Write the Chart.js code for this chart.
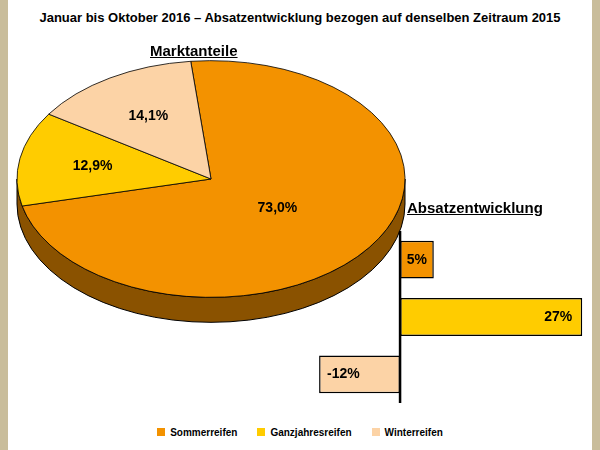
<!DOCTYPE html>
<html><head><meta charset="utf-8">
<script src="https://cdn.jsdelivr.net/npm/chart.js@4"></script>
<style>
body{margin:0;width:600px;height:450px;position:relative;background:#fff;font-family:Arial,"Liberation Sans",sans-serif;overflow:hidden}
.bd{position:absolute;top:0;bottom:0;width:8px;background:#c9bd9b}
#t{position:absolute;top:10px;left:0;width:600px;text-align:center;font-weight:bold;font-size:13px}
#mt{position:absolute;top:42px;left:150px;font-weight:bold;font-size:15px;text-decoration:underline;z-index:3}
#at{position:absolute;top:199px;left:407px;font-weight:bold;font-size:15px;text-decoration:underline;z-index:3}
#lg{position:absolute;top:427px;left:0;width:600px;text-align:center;font-weight:bold;font-size:10px}
#lg span{margin:0 10px}#lg i{display:inline-block;width:8px;height:8px;margin-right:5px}
</style></head><body>
<div class="bd" style="left:0"></div><div class="bd" style="right:0"></div>
<div id="t">Januar bis Oktober 2016 – Absatzentwicklung bezogen auf denselben Zeitraum 2015</div>
<div id="mt">Marktanteile</div>
<div id="at">Absatzentwicklung</div>
<div style="position:absolute;left:6px;top:34px;width:410px;height:290px"><canvas id="p"></canvas></div>
<div style="position:absolute;left:311px;top:231px;width:280px;height:172px;z-index:2"><canvas id="b"></canvas></div>
<div id="lg"></div>
<script>
const categories=["Sommerreifen","Ganzjahresreifen","Winterreifen"];
const shares=[73.0,12.9,14.1];
const growth=[5,27,-12];
const colors=["#f39200","#ffcc00","#fcd3a6"];
const sideColors=["#8a5200","#8a6e00","#8a7358"];
document.getElementById('lg').innerHTML=categories.map((c,i)=>`<span><i style="background:${colors[i]}"></i>${c}</span>`).join('');
const fmt=v=>v.toFixed(1).replace('.',',')+'%';
const SY=0.61, DEPTH=25;
const squash={id:'squash',
 beforeDatasetsDraw(ch){const a=ch.getDatasetMeta(0).data[0];const ctx=ch.ctx;const r=a.outerRadius;
  ctx.save();
  ctx.fillStyle=sideColors[0];ctx.strokeStyle='#000';ctx.lineWidth=1;
  ctx.beginPath();ctx.ellipse(a.x,a.y+DEPTH,r,r*SY,0,0,Math.PI);ctx.lineTo(a.x-r,a.y);ctx.ellipse(a.x,a.y,r,r*SY,0,Math.PI,0,true);ctx.closePath();ctx.fill();ctx.stroke();
  ctx.translate(a.x,a.y);ctx.scale(1,SY);ctx.translate(-a.x,-a.y);
 },
 afterDatasetsDraw(ch){ch.ctx.restore();
  const ctx=ch.ctx;ctx.save();ctx.font='bold 14px Arial';ctx.fillStyle='#000';ctx.textAlign='center';ctx.textBaseline='middle';
  ch.getDatasetMeta(0).data.forEach((e,i)=>{const m=(e.startAngle+e.endAngle)/2;const f=i==0?0.42:0.62;
   ctx.fillText(fmt(shares[i]),e.x+Math.cos(m)*e.outerRadius*f,e.y+Math.sin(m)*e.outerRadius*f*SY);});
  ctx.restore();}
};
new Chart(document.getElementById('p'),{type:'pie',
 data:{labels:categories,datasets:[{data:shares,backgroundColor:colors,borderColor:'#000',borderWidth:1}]},
 options:{responsive:true,maintainAspectRatio:false,animation:false,rotation:-6,radius:194,
  layout:{padding:{top:-55,bottom:-25}},
  plugins:{legend:{display:false},tooltip:{enabled:false}}},
 plugins:[squash]
});
const axisLine={id:'axl',afterDatasetsDraw(ch){const x=ch.scales.x.getPixelForValue(0);const c=ch.ctx;c.save();c.strokeStyle='#000';c.lineWidth=2.5;c.beginPath();c.moveTo(x,0);c.lineTo(x,ch.height);c.stroke();
 c.font='bold 14px Arial';c.fillStyle='#000';c.textBaseline='middle';
 ch.getDatasetMeta(0).data.forEach((e,i)=>{const v=growth[i];const t=v+'%';
  if(v>=0){c.textAlign=v>10?'right':'center';c.fillText(t,v>10?e.x-10:(e.x+e.base)/2,e.y);}else{c.textAlign='left';c.fillText(t,e.x+8,e.y);}});
 c.restore();}};
new Chart(document.getElementById('b'),{type:'bar',
 data:{labels:categories,datasets:[{data:growth,backgroundColor:colors,borderColor:'#000',borderWidth:1.5,borderSkipped:false,barPercentage:0.66,categoryPercentage:1}]},
 options:{indexAxis:'y',responsive:true,maintainAspectRatio:false,animation:false,layout:{padding:0},
  scales:{x:{display:false,min:-13.2,max:28.3},y:{display:false}},
  plugins:{legend:{display:false},tooltip:{enabled:false}}},
 plugins:[axisLine]});
</script></body></html>
